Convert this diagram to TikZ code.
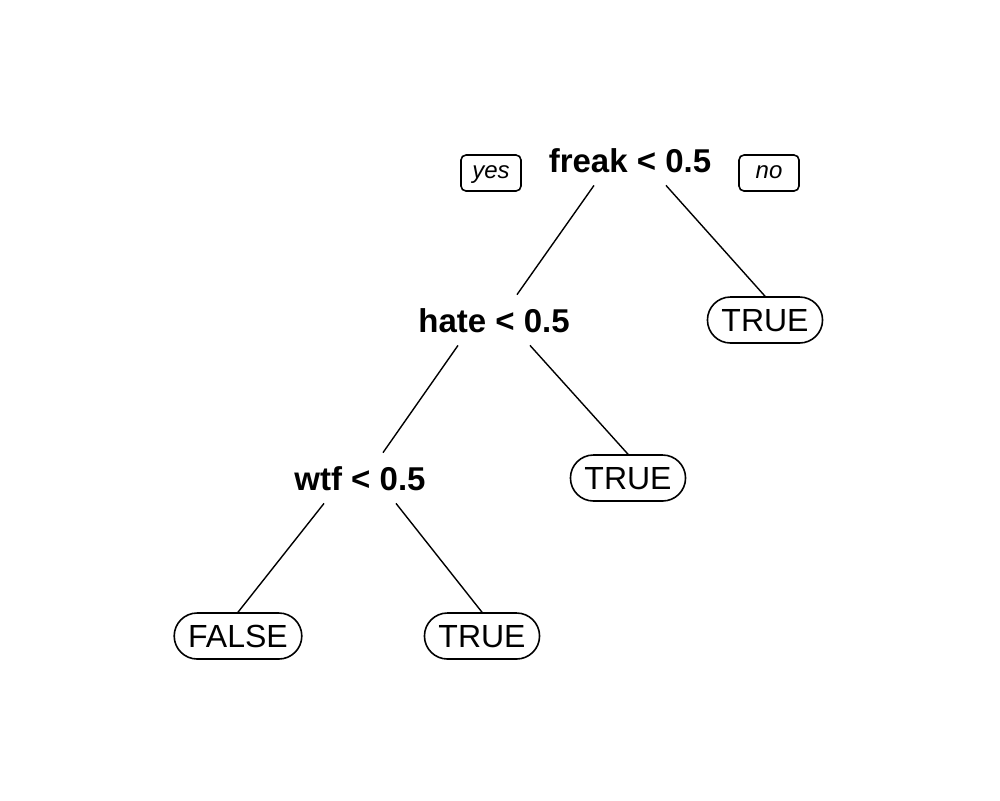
\documentclass[tikz,border=0pt]{standalone}
\usepackage{fontspec}
\setmainfont{Liberation Sans}
\usepackage{tikz}
\usetikzlibrary{calc, positioning}

\tikzset{
	split/.style={anchor=base, inner sep=0pt, text height=12pt, text depth=0pt, font=\fontsize{16.5}{19}\selectfont\bfseries},
	leaf/.style={draw, line width=0.8pt, rounded corners=11.5pt, minimum height=23pt, inner xsep=7pt, inner ysep=0pt, text height=11.5pt, text depth=0pt, font=\fontsize{16}{19}\selectfont},
	answer/.style={draw, line width=0.8pt, rounded corners=2.5pt, minimum width=30pt, minimum height=18pt, inner sep=0pt, text height=6.5pt, text depth=1.5pt, font=\fontsize{12}{14}\selectfont\itshape},
	branch/.style={draw, line width=0.7pt}
}

\begin{document}
\begin{tikzpicture}[x=0.5pt, y=-0.5pt]
		\useasboundingbox (0,0) rectangle (1000,800);
		\node[split] (freak) at (630,172) {freak < 0.5};
		\node[answer] (yes) at (491,173) {yes};
		\node[answer] (no) at (769,173) {no};
		\node[split] (hate) at (494,332) {hate < 0.5};
		\node[leaf] (true1) at (765,320) {TRUE};
		\node[split] (wtf) at (360,490) {wtf < 0.5};
		\node[leaf] (true2) at (628,478) {TRUE};
		\node[leaf] (false) at (238,636) {FALSE};
		\node[leaf] (true3) at (482,636) {TRUE};
		\path[branch] ([shift={(-36,13)}]freak.south) -- ([shift={(23,-13)}]hate.north);
		\path[branch] ([shift={(36,13)}]freak.south) -- (true1.north);
		\path[branch] ([shift={(-36,13)}]hate.south) -- ([shift={(23,-13)}]wtf.north);
		\path[branch] ([shift={(36,13)}]hate.south) -- (true2.north);
		\path[branch] ([shift={(-36,13)}]wtf.south) -- (false.north);
		\path[branch] ([shift={(36,13)}]wtf.south) -- (true3.north);
	\end{tikzpicture}
\end{document}
